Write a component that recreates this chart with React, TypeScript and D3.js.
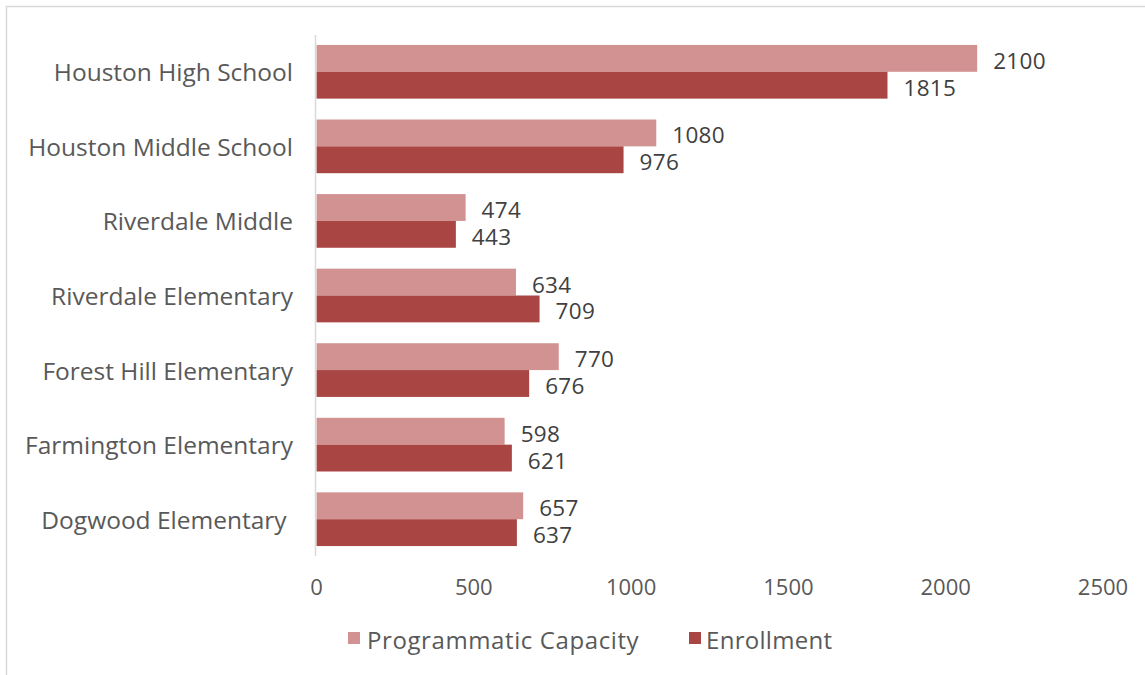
import React from "react";
import * as d3 from "d3";

const schools = [
  "Houston High School",
  "Houston Middle School",
  "Riverdale Middle",
  "Riverdale Elementary",
  "Forest Hill Elementary",
  "Farmington Elementary",
  "Dogwood Elementary ",
];
const capacity = [2100, 1080, 474, 634, 770, 598, 657];
const enrollment = [1815, 976, 443, 709, 676, 621, 637];
const xTicks = [0, 500, 1000, 1500, 2000, 2500];
const seriesNames = ["Programmatic Capacity", "Enrollment"];
const seriesColors = ["#D29291", "#A94643"];

const W = 1145;
const H = 675;
const FONT = "'Open Sans', sans-serif";

export default function App() {
  const x = d3.scaleLinear().domain([0, 2500]).range([316.5, 1103]);
  const y = d3
    .scaleBand<string>()
    .domain(schools)
    .range([34.5, 556.5])
    .paddingInner(0.28)
    .paddingOuter(0.14);
  const half = y.bandwidth() / 2;
  const series = [capacity, enrollment];

  return (
    <svg
      width={W}
      height={H}
      style={{ position: "absolute", left: 0, top: 0, background: "#fff" }}
      fontFamily={FONT}
    >
      <rect x={6.5} y={6.5} width={W + 10} height={H + 10} fill="#fff" stroke="#d9d9d9" strokeWidth={1.5} />
      {schools.map((s, i) => (
        <g key={s}>
          {series.map((vals, k) => {
            const y0 = (y(s) as number) + k * half;
            return (
              <g key={k}>
                <rect x={x(0)} y={y0} width={x(vals[i]) - x(0)} height={half} fill={seriesColors[k]} />
                <text
                  x={x(vals[i]) + 16}
                  y={y0 + half / 2 + 2}
                  dominantBaseline="central"
                  fontSize={22.5}
                  letterSpacing={0.3}
                  fill="#404040"
                >
                  {vals[i]}
                </text>
              </g>
            );
          })}
          <text
            x={293}
            y={(y(s) as number) + y.bandwidth() / 2}
            textAnchor="end"
            dominantBaseline="central"
            fontSize={24.5}
            fill="#595959"
            style={{ whiteSpace: "pre" }}
          >
            {s}
          </text>
        </g>
      ))}
      <line x1={315.5} x2={315.5} y1={35} y2={556} stroke="#d9d9d9" strokeWidth={1.5} />
      {xTicks.map((t) => (
        <text key={t} x={x(t)} y={586} textAnchor="middle" dominantBaseline="central" fontSize={22} fill="#595959">
          {t}
        </text>
      ))}
      <g>
        <rect x={348} y={632} width={12} height={12} fill={seriesColors[0]} />
        <text x={367} y={639} dominantBaseline="central" fontSize={24} letterSpacing={0.6} fill="#595959">
          {seriesNames[0]}
        </text>
        <rect x={689} y={632} width={12} height={12} fill={seriesColors[1]} />
        <text x={706} y={639} dominantBaseline="central" fontSize={24} letterSpacing={0.3} fill="#595959">
          {seriesNames[1]}
        </text>
      </g>
    </svg>
  );
}
